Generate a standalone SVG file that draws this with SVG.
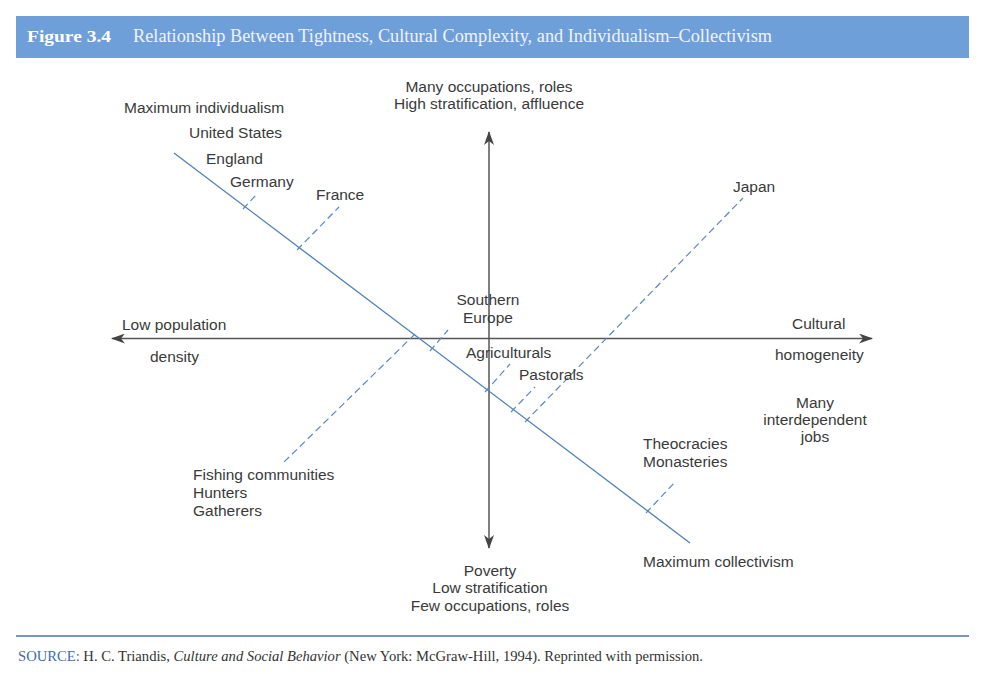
<svg xmlns="http://www.w3.org/2000/svg" width="983" height="674" viewBox="0 0 983 674">
<defs>
<marker id="arr" viewBox="0 0 14 10" refX="13" refY="5" markerWidth="14" markerHeight="10" markerUnits="userSpaceOnUse" orient="auto">
<path d="M0,0 L14,5 L0,10 L4,5 Z" fill="#444"/>
</marker>
</defs>
<style>
.t{font-family:"Liberation Sans",Arial,sans-serif;font-size:15.5px;fill:#3a3a3a}
.m{text-anchor:middle}
.axis{stroke:#555;stroke-width:1.5;fill:none}
.main{stroke:#4f7fb8;stroke-width:1.3;fill:none}
.dash{stroke:#5a88c0;stroke-width:1.2;stroke-dasharray:7 4;fill:none}
.serif{font-family:"Liberation Serif","Times New Roman",serif}
</style>
<rect width="983" height="674" fill="#ffffff"/>
<g id="header">
<rect x="16" y="16" width="953" height="42" fill="#6f9fd9"/>
<text x="27" y="42" class="serif" font-size="17.5" font-weight="bold" fill="#ffffff" textLength="84" lengthAdjust="spacingAndGlyphs">Figure 3.4</text>
<text x="133" y="42" class="serif" font-size="18" fill="#eef3fb" textLength="639" lengthAdjust="spacingAndGlyphs">Relationship Between Tightness, Cultural Complexity, and Individualism–Collectivism</text>
</g>
<g id="connectors">
<line class="axis" x1="489" y1="338.5" x2="112" y2="338.5" marker-end="url(#arr)"/>
<line class="axis" x1="489" y1="338.5" x2="872" y2="338.5" marker-end="url(#arr)"/>
<line class="axis" x1="489" y1="338" x2="489" y2="132" marker-end="url(#arr)"/>
<line class="axis" x1="489" y1="338" x2="489" y2="548" marker-end="url(#arr)"/>
<line class="main" x1="174" y1="153" x2="690" y2="543"/>
<line class="dash" x1="243" y1="209" x2="257" y2="194"/>
<line class="dash" x1="297" y1="250" x2="339" y2="207"/>
<line class="dash" x1="415" y1="334" x2="283" y2="463"/>
<line class="dash" x1="430" y1="351" x2="448" y2="330"/>
<line class="dash" x1="485" y1="392" x2="510" y2="364"/>
<line class="dash" x1="511" y1="412" x2="535" y2="387"/>
<line class="dash" x1="525" y1="422" x2="743" y2="198"/>
<line class="dash" x1="646" y1="513" x2="676" y2="481"/>
</g>
<g id="n-top"><text class="t m" x="489" y="92">Many occupations, roles</text><text class="t m" x="489" y="109">High stratification, affluence</text></g>
<g id="n-maxind"><text class="t" x="124" y="113">Maximum individualism</text></g>
<g id="n-us"><text class="t" x="189" y="138">United States</text></g>
<g id="n-england"><text class="t" x="206" y="164">England</text></g>
<g id="n-germany"><text class="t" x="230" y="187">Germany</text></g>
<g id="n-france"><text class="t" x="316" y="200">France</text></g>
<g id="n-japan"><text class="t" x="733" y="192">Japan</text></g>
<g id="n-southeu"><text class="t m" x="488" y="305">Southern</text><text class="t m" x="488" y="323">Europe</text></g>
<g id="n-agri"><text class="t" x="466" y="358">Agriculturals</text></g>
<g id="n-past"><text class="t" x="519" y="380">Pastorals</text></g>
<g id="n-lowpop"><text class="t" x="122" y="330">Low population</text><text class="t" x="150" y="362">density</text></g>
<g id="n-cult"><text class="t" x="792" y="329">Cultural</text><text class="t" x="775" y="360">homogeneity</text></g>
<g id="n-jobs"><text class="t m" x="815" y="408">Many</text><text class="t m" x="815" y="425">interdependent</text><text class="t m" x="815" y="442">jobs</text></g>
<g id="n-theo"><text class="t" x="643" y="449">Theocracies</text><text class="t" x="643" y="467">Monasteries</text></g>
<g id="n-maxcol"><text class="t" x="643" y="567">Maximum collectivism</text></g>
<g id="n-fish"><text class="t" x="193" y="480">Fishing communities</text><text class="t" x="193" y="498">Hunters</text><text class="t" x="193" y="516">Gatherers</text></g>
<g id="n-bottom"><text class="t m" x="490" y="576">Poverty</text><text class="t m" x="490" y="593">Low stratification</text><text class="t m" x="490" y="611">Few occupations, roles</text></g>
<g id="footer">
<line x1="16" y1="636" x2="969" y2="636" stroke="#4a72a8" stroke-width="1.5"/>
<text x="18" y="661" class="serif" font-size="14.5" fill="#333" textLength="685" lengthAdjust="spacingAndGlyphs"><tspan fill="#3f6cab">SOURCE:</tspan> H. C. Triandis, <tspan font-style="italic">Culture and Social Behavior</tspan> (New York: McGraw-Hill, 1994). Reprinted with permission.</text>
</g>
</svg>
